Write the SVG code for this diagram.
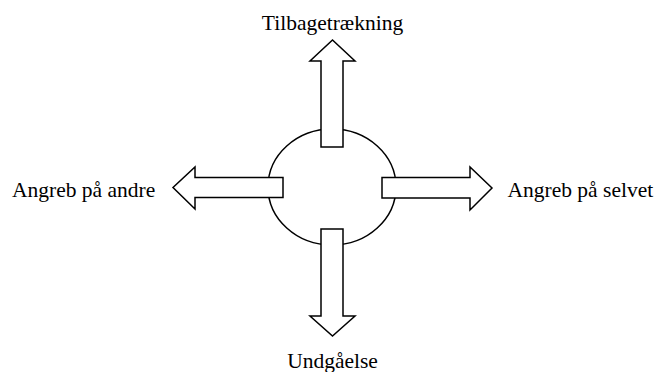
<svg xmlns="http://www.w3.org/2000/svg" width="655" height="372" viewBox="0 0 655 372">
<style>
.shape{fill:#fff;stroke:#000;stroke-width:1.5;stroke-linejoin:miter}
.lbl{font-family:"Liberation Serif","Times New Roman",serif;font-size:21.5px;fill:#000}
</style>
<rect width="655" height="372" fill="#fff"/>
<g id="center">
<ellipse class="shape" cx="332" cy="187" rx="64" ry="58"/>
</g>
<g id="connectors">
<polygon id="arrow-up" class="shape" points="321,147 321,61 310,61 332.5,40 355,61 343,61 343,147"/>
<polygon id="arrow-left" class="shape" points="283,177.5 195,177.5 195,167 173,187.5 195,209 195,197.5 283,197.5"/>
<polygon id="arrow-right" class="shape" points="382,177.5 470,177.5 470,167 492,188 470,210 470,198 382,198"/>
<polygon id="arrow-down" class="shape" points="321,229 321,316 310,316 332.5,336 355,316 343,316 343,229"/>
</g>
<g id="label-top"><text class="lbl" x="332.5" y="29.5" text-anchor="middle">Tilbagetrækning</text></g>
<g id="label-left"><text class="lbl" x="12" y="196.5">Angreb på andre</text></g>
<g id="label-right"><text class="lbl" x="507.5" y="196.5">Angreb på selvet</text></g>
<g id="label-bottom"><text class="lbl" x="332.5" y="367.5" text-anchor="middle">Undgåelse</text></g>
</svg>
